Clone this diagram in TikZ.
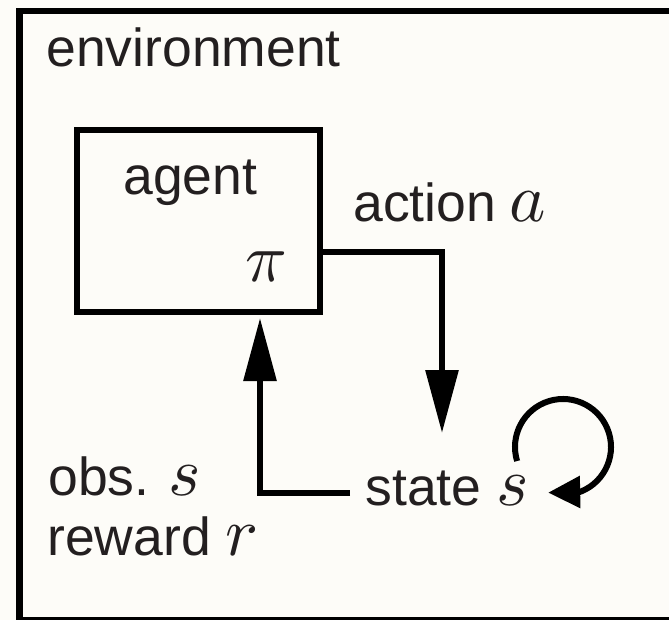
\documentclass[tikz,border=0pt]{standalone}
\usepackage{unicode-math}
\setmainfont{Liberation Sans}
\setmathfont{Latin Modern Math}
\usetikzlibrary{arrows.meta,bending}
\definecolor{bg}{RGB}{253,252,248}
\definecolor{ink}{RGB}{35,31,32}
\newcommand\bigmv[1]{{\fontsize{34.5pt}{40pt}\selectfont$#1$}}
\tikzset{
  lbl/.style={anchor=base west, inner sep=0pt, text=ink, font=\fontsize{26.75pt}{32pt}\selectfont},
  envbox/.style={draw, line width=3.25pt, anchor=north west, minimum width=329.5pt, minimum height=304.25pt, inner sep=0pt},
  agentbox/.style={draw, line width=3pt, minimum width=121.5pt, minimum height=91pt, inner sep=0pt},
  conn/.style={line width=3pt, -{Triangle[length=31.5pt,width=16pt]}},
  loopconn/.style={line width=3pt, -{Triangle[length=16pt,width=15.5pt,flex]}},
}
\begin{document}
\begin{tikzpicture}[x=0.5pt,y=-0.5pt]
\useasboundingbox[fill=bg] (0,0) rectangle (669,620);
\begin{scope}
  \clip (0,0) rectangle (669,620);
  \node[envbox] (env) at (16,8) {};
\end{scope}
\node[lbl] (envlabel) at (46,67) {environment};
\node[agentbox] (agent) at (198.5,221) {};
\node[lbl] (agentlabel) at (123,195) {agent};
\node[lbl] (pi) at (245,282) {\bigmv{\pi}};
\node[lbl] (action) at (353,222) {action\hspace{0.25em}\bigmv{a}};
\node[lbl] (obs) at (48,495) {obs.\hspace{0.35em}\bigmv{s}};
\node[lbl] (reward) at (47,555) {reward \bigmv{r}};
\node[lbl] (state) at (365,505) {state \bigmv{s}};
\coordinate (actturn) at (442,252);
\coordinate (acttip) at (442,433);
\coordinate (obsx) at (260,0);
\coordinate (loopc) at (563,447);
\draw[conn] (agent.east |- actturn) -- (actturn) -- (acttip);
\draw[conn, shorten >=1.5pt] ([xshift=-7.5pt,yshift=6pt]state.base west) -| (agent.south -| obsx);
\draw[loopconn] ([shift={(197:24pt)}]loopc) arc[start angle=197, end angle=-108, radius=24pt];
\end{tikzpicture}
\end{document}
